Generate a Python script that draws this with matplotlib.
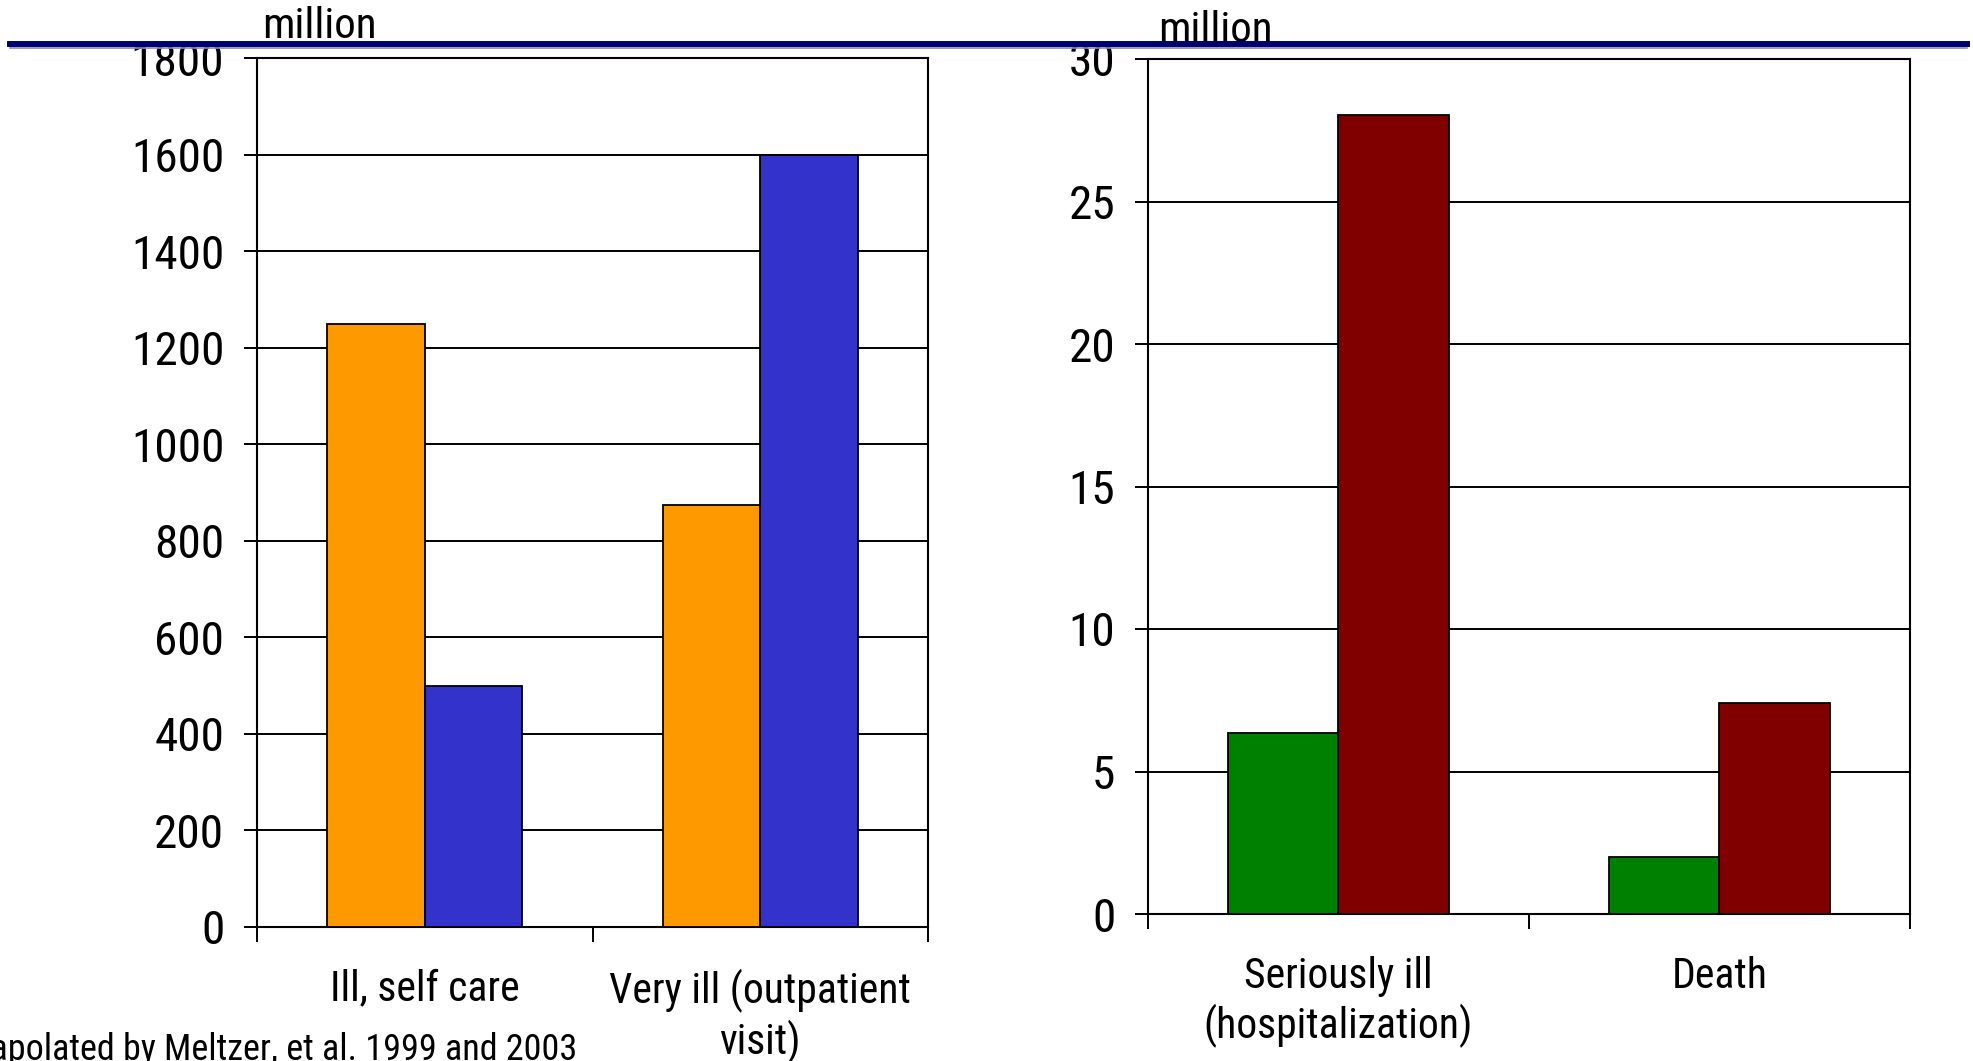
import matplotlib
matplotlib.use("Agg")
import matplotlib.pyplot as plt
from matplotlib.lines import Line2D
from matplotlib import font_manager
from matplotlib.font_manager import FontProperties
import numpy as np

# cases per severity level, two estimates each
left_cats = ["Ill, self care", "Very ill (outpatient\nvisit)"]
left_a = [1250, 875]
left_b = [500, 1600]
left_ticks = [0, 200, 400, 600, 800, 1000, 1200, 1400, 1600, 1800]

right_cats = ["Seriously ill\n(hospitalization)", "Death"]
right_a = [6.35, 2.0]
right_b = [28.05, 7.4]
right_ticks = [0, 5, 10, 15, 20, 25, 30]

# look for a narrow sans face
narrow = None
for want in ["LiberationSansNarrow-Regular", "RobotoCondensed-Regular",
             "DejaVuSansCondensed.", "OpenSansCondensed", "Condensed-Regular",
             "Narrow"]:
    for f in font_manager.fontManager.ttflist:
        base = f.fname.split("/")[-1]
        if want in base and "Bold" not in base and "Italic" not in base \
                and "Oblique" not in base:
            narrow = f.fname
            break
    if narrow:
        break


def fp(size):
    if narrow:
        return FontProperties(fname=narrow, size=size)
    return FontProperties(family="DejaVu Sans", size=size * 0.85)


W, H = 1974, 1061
fig = plt.figure(figsize=(W / 100, H / 100), dpi=100)


def box(x0, y0, x1, y1):
    return [x0 / W, 1 - y1 / H, (x1 - x0) / W, (y1 - y0) / H]


def panel(ax, cats, a, b, ticks, ca, cb, wid):
    x = np.arange(len(cats))
    ax.bar(x - wid / 2, a, wid, color=ca, edgecolor="black", linewidth=1.3, zorder=3)
    ax.bar(x + wid / 2, b, wid, color=cb, edgecolor="black", linewidth=1.3, zorder=3)
    ax.set_xlim(-0.5, len(cats) - 0.5)
    ax.set_ylim(ticks[0], ticks[-1])
    ax.set_yticks(ticks)
    ax.set_yticklabels([str(t) for t in ticks], fontproperties=fp(34))
    ax.yaxis.grid(True, color="black", linewidth=1.4, zorder=1)
    ax.set_xticks(np.arange(len(cats) + 1) - 0.5)
    ax.set_xticklabels([])
    ax.set_xticks(x, minor=True)
    ax.set_xticklabels(cats, minor=True, fontproperties=fp(30), linespacing=1.2)
    ax.tick_params(axis="x", which="minor", length=0, pad=30)
    ax.tick_params(axis="x", which="major", length=11, width=1.4, direction="out")
    ax.tick_params(axis="y", length=9.5, width=1.4, pad=14)
    for s in ax.spines.values():
        s.set_linewidth(1.5)
        s.set_color("black")


ax1 = fig.add_axes(box(257, 58, 928, 927))
panel(ax1, left_cats, left_a, left_b, left_ticks, "#FF9900", "#3333CC", 0.29)

ax2 = fig.add_axes(box(1148, 59, 1910, 914))
panel(ax2, right_cats, right_a, right_b, right_ticks, "#008000", "#800000", 0.29)

fig.text(262 / W, 1 - 26 / H, "million", fontproperties=fp(31), va="center", ha="left")
fig.text(1158 / W, 1 - 30 / H, "million", fontproperties=fp(31), va="center", ha="left")

fig.text(577 / W, 1 - 1050 / H, "Extrapolated by Meltzer, et al. 1999 and 2003",
         fontproperties=fp(26), ha="right", va="center")

# header rule across the top
fig.add_artist(Line2D([10 / W, 1967 / W], [1 - 47.5 / H, 1 - 47.5 / H],
                      color="#8888CC", linewidth=1.2, zorder=10))
fig.add_artist(Line2D([10 / W, 1967 / W], [1 - 43.5 / H, 1 - 43.5 / H],
                      color="#000070", linewidth=4.3, zorder=11))

fig.savefig("out.png", dpi=100)
